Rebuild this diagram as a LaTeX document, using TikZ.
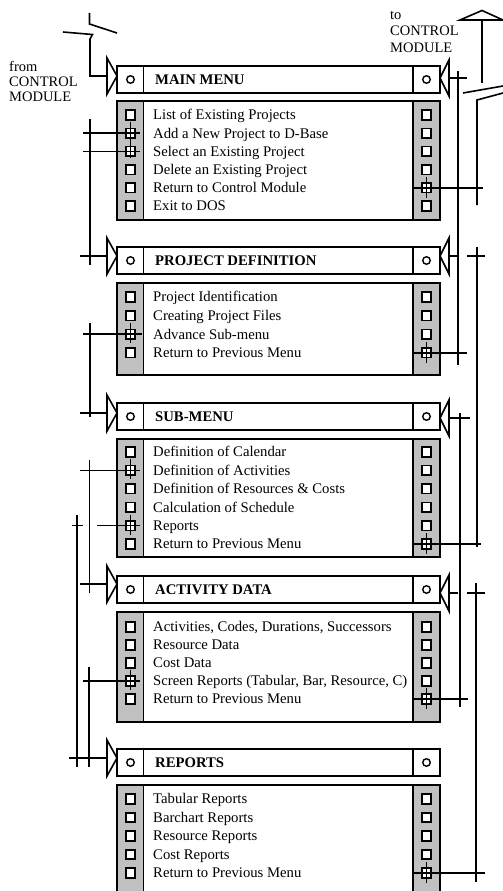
\documentclass[tikz,border=0pt]{standalone}
\usepackage{fontspec}
\setmainfont{Liberation Serif}
\definecolor{stripgray}{RGB}{192,192,192}
\tikzset{
  boxline/.style={line width=1.9pt},
  conn/.style={line width=1.6pt},
  optsq/.style={draw, fill=white, line width=1.6pt, minimum size=9.5pt, inner sep=0pt, outer sep=0pt},
  hdot/.style={circle, draw, line width=1.4pt, minimum size=7.5pt, inner sep=0pt},
  itemtext/.style={anchor=base west, inner sep=0pt, font=\fontsize{14.7}{17}\selectfont},
  hdrtext/.style={anchor=west, inner sep=0pt, font=\fontsize{14.7}{17}\selectfont\bfseries},
  sidetext/.style={anchor=base west, inner sep=0pt, font=\fontsize{14.5}{16}\selectfont},
}
\newcommand\menuheader[3]{%
  \draw[boxline] (117,#2) rectangle (440,{#2+27});
  \draw[boxline] (143.5,#2) -- (143.5,{#2+27}) (413,#2) -- (413,{#2+27});
  \node[hdot] (#1-hl) at (130.5,{#2+13.5}) {};
  \node[hdot] (#1-hr) at (426.5,{#2+13.5}) {};
  \node[hdrtext] (#1-title) at (155,{#2+13.5}) {#3};
}
\newcommand\menubox[3]{%
  \fill[stripgray] (117,#2) rectangle (143.5,#3) (413,#2) rectangle (440,#3);
  \draw[boxline] (117,#2) rectangle (440,#3);
  \draw[boxline] (143.5,#2) -- (143.5,#3) (413,#2) -- (413,#3);
}
\newcommand\menuitem[4]{%
  \node[optsq] (#1-l#2) at (130.5,#3) {};
  \node[optsq] (#1-r#2) at (426.5,#3) {};
  \node[itemtext] (#1-t#2) at (153,{#3+4.8}) {#4};
}
\newcommand\lArrowHead[2]{%
  \draw[conn] (107,{#2-18}) -- (117,#2) -- (107,{#2+18}) -- cycle;
  \coordinate (#1-in) at (107,#2);
}
\newcommand\rArrowHead[2]{%
  \draw[conn] (449,{#2-18}) -- (440,#2) -- (449,{#2+18}) -- cycle;
  \coordinate (#1-back) at (449,#2);
}
\begin{document}
\begin{tikzpicture}[x=1pt,y=-1pt]
\useasboundingbox (0,0) rectangle (503,891);
\clip (0,0) rectangle (503,891);
\fill[white] (0,0) rectangle (503,891);

% ---------- side labels ----------
\node[sidetext] (from1) at (9,71) {from};
\node[sidetext] (from2) at (9,86) {CONTROL};
\node[sidetext] (from3) at (9,101) {MODULE};
\node[sidetext] (to1) at (390,19.5) {to};
\node[sidetext] (to2) at (390,36) {CONTROL};
\node[sidetext] (to3) at (390,52.5) {MODULE};

% ---------- MAIN MENU ----------
\menuheader{mm}{66}{MAIN MENU}
\menubox{mm}{101}{220}
\menuitem{mm}{1}{115}{List of Existing Projects}
\menuitem{mm}{2}{133.2}{Add a New Project to D-Base}
\menuitem{mm}{3}{151.4}{Select an Existing Project}
\menuitem{mm}{4}{169.6}{Delete an Existing Project}
\menuitem{mm}{5}{187.8}{Return to Control Module}
\menuitem{mm}{6}{206}{Exit to DOS}
\lArrowHead{mm}{76}
\rArrowHead{mm}{78}

% ---------- PROJECT DEFINITION ----------
\menuheader{pd}{247}{PROJECT DEFINITION}
\menubox{pd}{283}{375}
\menuitem{pd}{1}{297}{Project Identification}
\menuitem{pd}{2}{315.6}{Creating Project Files}
\menuitem{pd}{3}{334.2}{Advance Sub-menu}
\menuitem{pd}{4}{352.8}{Return to Previous Menu}
\lArrowHead{pd}{256}
\rArrowHead{pd}{256}

% ---------- SUB-MENU ----------
\menuheader{sub}{403}{SUB-MENU}
\menubox{sub}{439}{557}
\menuitem{sub}{1}{452}{Definition of Calendar}
\menuitem{sub}{2}{470.4}{Definition of Activities}
\menuitem{sub}{3}{488.8}{Definition of Resources \& Costs}
\menuitem{sub}{4}{507.2}{Calculation of Schedule}
\menuitem{sub}{5}{525.6}{Reports}
\menuitem{sub}{6}{544}{Return to Previous Menu}
\lArrowHead{sub}{413}
\rArrowHead{sub}{418}

% ---------- ACTIVITY DATA ----------
\menuheader{ad}{576}{ACTIVITY DATA}
\menubox{ad}{612}{722}
\menuitem{ad}{1}{627}{Activities, Codes, Durations, Successors}
\menuitem{ad}{2}{645}{Resource Data}
\menuitem{ad}{3}{663}{Cost Data}
\menuitem{ad}{4}{681}{Screen Reports (Tabular, Bar, Resource, C)}
\menuitem{ad}{5}{699}{Return to Previous Menu}
\lArrowHead{ad}{584}
\rArrowHead{ad}{593}

% ---------- REPORTS ----------
\menuheader{rep}{749}{REPORTS}
\menubox{rep}{785}{905}
\menuitem{rep}{1}{799}{Tabular Reports}
\menuitem{rep}{2}{817.5}{Barchart Reports}
\menuitem{rep}{3}{836}{Resource Reports}
\menuitem{rep}{4}{854.5}{Cost Reports}
\menuitem{rep}{5}{873}{Return to Previous Menu}
\lArrowHead{rep}{758}

% ---------- break symbols ----------
\coordinate (tl1) at (89.5,13);
\coordinate (tl2) at (89.5,24);
\coordinate (tl3) at (117,33);
\coordinate (tl4) at (63,32);
\coordinate (tl5) at (92.5,34.5);
\coordinate (tl6) at (90,39);
\coordinate (tl7) at (90,76);
\draw[conn] (tl1) -- (tl2) -- (tl3);
\draw[conn] (tl4) -- (tl5) -- (tl6) -- (tl7) -- (mm-in);

\coordinate (tr1) at (460,20);
\coordinate (tr2) at (482,10.5);
\coordinate (tr3) at (503,20);
\coordinate (tr4) at (482,20);
\coordinate (tr5) at (482,83);
\coordinate (tr6) at (463,93);
\coordinate (tr7) at (503,86);
\coordinate (tr8) at (477,100);
\coordinate (tr9) at (503,93);
\coordinate (tr10) at (477,205);
\draw[conn] (tr1) -- (tr2) -- (tr3) -- cycle;
\draw[conn] (tr4) -- (tr5);
\draw[conn] (tr6) -- (tr7);
\draw[conn] (tr9) -- (tr8) -- (tr10);

% ---------- right-hand connectors ----------
\draw[conn] (mm-back) -- ([xshift=18pt]mm-back);
\coordinate (v1a) at (458,71); \coordinate (v1b) at (458,365);
\draw[conn] (v1a) -- (v1b);
\draw[conn] ([xshift=-13.5pt]pd-r4.center) -- ([xshift=40.5pt]pd-r4.center);
\draw[conn] (pd-back) -- ([xshift=10pt]pd-back);
\draw[conn] ([xshift=18pt]pd-back) -- ([xshift=36pt]pd-back);
\draw[conn] ([xshift=-13.5pt]mm-r5.center) -- ([xshift=56.5pt]mm-r5.center);
\coordinate (v3a) at (477,247); \coordinate (v3b) at (477,547);
\draw[conn] (v3a) -- (v3b);
\draw[conn] ([xshift=-13.5pt]sub-r6.center) -- ([xshift=54.5pt]sub-r6.center);
\draw[conn] (sub-back) -- ([xshift=21pt]sub-back);
\coordinate (v4a) at (460,413); \coordinate (v4b) at (460,707);
\draw[conn] (v4a) -- (v4b);
\draw[conn] ([xshift=-13.5pt]ad-r5.center) -- ([xshift=41.5pt]ad-r5.center);
\draw[conn] (ad-back) -- ([xshift=9pt]ad-back);
\draw[conn] ([xshift=18pt]ad-back) -- ([xshift=36pt]ad-back);
\coordinate (v5a) at (476,583); \coordinate (v5b) at (476,882);
\draw[conn] (v5a) -- (v5b);
\draw[conn] ([xshift=-13.5pt]rep-r5.center) -- ([xshift=58.5pt]rep-r5.center);
% right ticks
\foreach \n in {mm-r5,pd-r4,sub-r6,ad-r5,rep-r5}
  \draw[conn] ([yshift=11pt]\n.center) -- ([yshift=-10pt]\n.center);

% ---------- left-hand connectors ----------
\coordinate (l1a) at (90,119); \coordinate (l1b) at (90,265);
\draw[conn] (l1a) -- (l1b);
\draw[conn] ([xshift=-47.5pt]mm-l2.center) -- ([xshift=9.5pt]mm-l2.center);
\draw[conn] ([xshift=-47.5pt]mm-l3.center) -- ([xshift=9.5pt]mm-l3.center);
\draw[conn] ([yshift=11pt]mm-l2.center) -- ([yshift=-6.6pt]mm-l3.center);
\draw[conn] ([xshift=-27pt]pd-in) -- (pd-in);

\coordinate (l2a) at (90,323); \coordinate (l2b) at (90,417);
\draw[conn] (l2a) -- (l2b);
\draw[conn] ([xshift=-47.5pt]pd-l3.center) -- ([xshift=11.5pt]pd-l3.center);
\draw[conn] ([xshift=-27pt]sub-in) -- (sub-in);

\coordinate (l3a) at (89.5,460); \coordinate (l3b) at (89.5,593);
\draw[conn] (l3a) -- (l3b);
\draw[conn] ([xshift=-50.5pt]sub-l2.center) -- ([xshift=9.5pt]sub-l2.center);
\draw[conn] ([xshift=-27pt]ad-in) -- (ad-in);

\coordinate (l4a) at (77,515); \coordinate (l4b) at (77,767);
\draw[conn] (l4a) -- (l4b);
\draw[conn] ([xshift=-58.5pt]sub-l5.center) -- ([xshift=-47.5pt]sub-l5.center);
\draw[conn] ([xshift=-33.5pt]sub-l5.center) -- ([xshift=9.5pt]sub-l5.center);
\draw[conn] ([xshift=-38pt]rep-in) -- (rep-in);

\coordinate (l5a) at (89,667); \coordinate (l5b) at (89,767);
\draw[conn] (l5a) -- (l5b);
\draw[conn] ([xshift=-47.5pt]ad-l4.center) -- ([xshift=9.5pt]ad-l4.center);
% left ticks
\foreach \n in {pd-l3,sub-l2,sub-l5,ad-l4}
  \draw[conn] ([yshift=11pt]\n.center) -- ([yshift=-9pt]\n.center);
\end{tikzpicture}
\end{document}
